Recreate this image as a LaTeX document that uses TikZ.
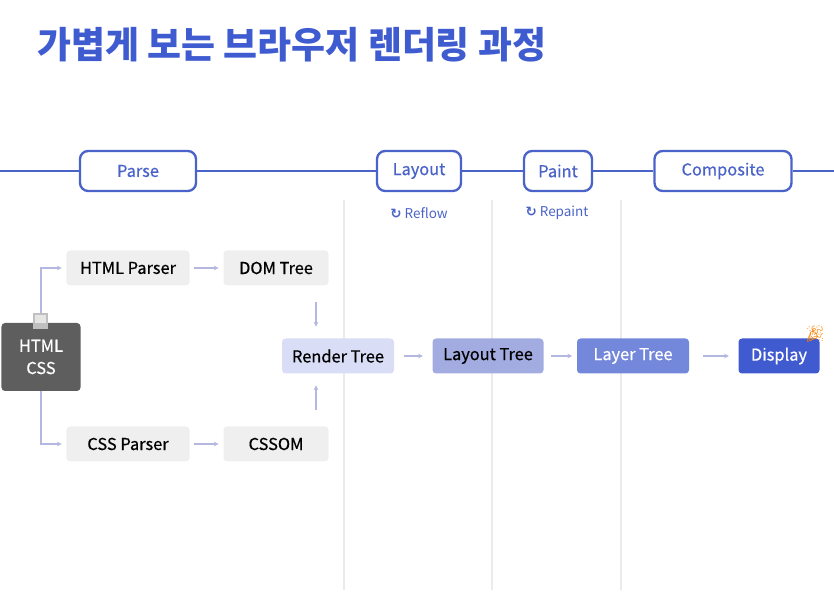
\documentclass[tikz,border=0pt]{standalone}
\usepackage{fontspec}
\setmainfont{Noto Sans CJK KR}
\newfontfamily\medfont[FakeBold=0.6]{Noto Sans CJK KR}
\newfontfamily\symfont{DejaVu Sans}
\newfontfamily\emojifont{Noto Emoji}
\usepackage{tikz}
\usetikzlibrary{calc}
\usetikzlibrary{arrows.meta}
\definecolor{stageblue}{HTML}{4A63C8}
\definecolor{titleblue}{HTML}{3F5BD0}
\definecolor{flowline}{HTML}{B4B8E0}
\definecolor{boxgray}{HTML}{EFEFEF}
\definecolor{srcgray}{HTML}{5E5E5E}
\definecolor{rendercol}{HTML}{D9DDF5}
\definecolor{layoutcol}{HTML}{A3ACE0}
\definecolor{layercol}{HTML}{7388DA}
\definecolor{displaycol}{HTML}{3F5BCF}
\tikzset{stage/.style={draw=stageblue, line width=2pt, fill=white, rounded corners=7pt, minimum height=1.2cm, text=stageblue, font=\medfont\fontsize{14}{16}\selectfont}}
\tikzset{tree/.style={rounded corners=3pt, minimum height=1.05cm, text=black, font=\medfont\fontsize{14}{16}\selectfont}}
\tikzset{flow/.style={draw=flowline, line width=0.9pt, -{Stealth[length=4pt,width=4pt]}, shorten >=4pt, shorten <=4pt}}
\tikzset{divider/.style={draw=black!8, line width=1pt}}
\tikzset{redo/.style={text=stageblue, font=\fontsize{11.5}{13}\selectfont}}

\begin{document}
\begin{tikzpicture}[x=0.03cm, y=-0.03cm]
\useasboundingbox (0,0) rectangle (834,601);

\node [text=titleblue, anchor=west, font=\fontsize{31.5}{36}\selectfont\bfseries] (title) at (33,45) {가볍게 보는 브라우저 렌더링 과정};

\foreach \x in {344,492,621} {\draw [divider] (\x,200) -- (\x,590);}

\node [stage, minimum width=3.48cm] (parse) at (138,171) {Parse};
\node [stage, minimum width=2.52cm] (layout) at (419,171) {Layout};
\node [stage, minimum width=2.04cm] (paint) at (558,171) {Paint};
\node [stage, minimum width=4.11cm] (composite) at (723,171) {Composite};
\coordinate (tl0) at (0,171);
\coordinate (tl1) at (834,171);
\draw [stageblue, line width=2.5pt] (tl0) -- (parse.west) (parse.east) -- (layout.west) (layout.east) -- (paint.west) (paint.east) -- (composite.west) (composite.east) -- (tl1);

\node [redo] (reflow) at (419,213) {{\symfont\bfseries ↻} Reflow};
\node [redo] (repaint) at (557,213) {{\symfont\bfseries ↻} Repaint};

\node [tree, fill=srcgray, text=white, minimum width=2.37cm, minimum height=2.04cm, align=center] (src) at (41,357) {HTML\\[3pt]CSS};
\node [tree, fill=boxgray, minimum width=3.69cm] (htmlp) at (128,268) {HTML Parser};
\node [tree, fill=boxgray, minimum width=3.15cm] (dom) at (276,268) {DOM Tree};
\node [tree, fill=boxgray, minimum width=3.69cm] (cssp) at (128,444) {CSS Parser};
\node [tree, fill=boxgray, minimum width=3.15cm] (cssom) at (276,444) {CSSOM};
\node [tree, fill=rendercol, minimum width=3.36cm] (render) at (338,356) {Render Tree};
\node [tree, fill=layoutcol, minimum width=3.33cm] (ltree) at (488,356) {Layout Tree};
\node [tree, fill=layercol, text=white, minimum width=3.36cm] (layer) at (633,356) {Layer Tree};
\node [tree, fill=displaycol, text=white, minimum width=2.43cm] (display) at (779,356) {Display};

\coordinate (mid) at (316,356);
\draw [flow, shorten <=0pt] (src.north) |- (htmlp.west);
\draw [flow, shorten <=0pt] (src.south) |- (cssp.west);
\draw [flow] (htmlp) -- (dom);
\draw [flow] (cssp) -- (cssom);
\draw [flow, shorten <=14pt, shorten >=10pt] (mid |- dom.south) -- (mid |- render.north);
\draw [flow, shorten <=14pt, shorten >=10pt] (mid |- cssom.north) -- (mid |- render.south);
\draw [flow, shorten <=8pt, shorten >=8pt] (render) -- (ltree);
\draw [flow, shorten <=6pt, shorten >=4pt] (ltree) -- (layer);
\draw [flow, shorten <=12pt, shorten >=8pt] (layer) -- (display);

\fill [black!25] (33,313) rectangle (48,329);
\fill [black!10] (35,315) rectangle (46,323);
\node [text=orange, font=\emojifont\fontsize{14}{15}\selectfont] (party) at (815,334) {🎉};

\end{tikzpicture}
\end{document}
